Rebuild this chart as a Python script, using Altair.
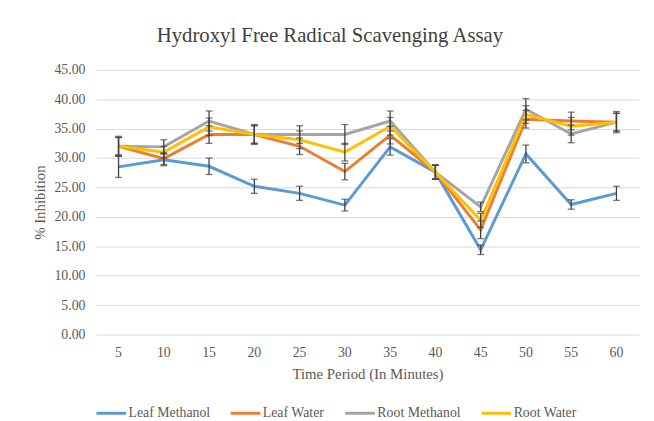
import altair as alt
import pandas as pd

times = [5, 10, 15, 20, 25, 30, 35, 40, 45, 50, 55, 60]
series_names = ["Leaf Methanol", "Leaf Water", "Root Methanol", "Root Water"]
colors = ["#5B9BD5", "#ED7D31", "#A5A5A5", "#FFC000"]

leaf_methanol = [28.5, 29.7, 28.6, 25.2, 24.0, 22.0, 31.9, 27.6, 14.4, 30.7, 22.1, 24.0]
leaf_water = [32.0, 29.9, 34.0, 34.0, 32.0, 27.7, 33.9, 27.6, 17.8, 36.6, 36.3, 36.1]
root_methanol = [32.0, 31.9, 36.3, 34.0, 34.0, 34.0, 36.3, 27.6, 21.7, 38.3, 34.1, 36.1]
root_water = [32.0, 31.0, 35.3, 34.0, 33.1, 31.0, 35.4, 27.6, 19.4, 37.4, 35.4, 36.1]

leaf_methanol_err = [1.8, 1.0, 1.4, 1.2, 1.2, 1.0, 1.4, 1.2, 0.8, 1.5, 0.8, 1.2]
leaf_water_err = [1.5, 1.0, 1.5, 1.5, 1.4, 1.4, 1.5, 1.2, 1.5, 1.5, 1.5, 1.5]
root_methanol_err = [1.7, 1.2, 1.7, 1.7, 1.5, 1.7, 1.7, 1.2, 0.8, 1.8, 1.5, 1.8]
root_water_err = [1.5, 1.0, 1.5, 1.5, 1.5, 1.5, 1.5, 1.2, 1.2, 1.5, 1.5, 1.5]

y_ticks = [0, 5, 10, 15, 20, 25, 30, 35, 40, 45]

rows = []
for name, vals, errs in zip(
    series_names,
    [leaf_methanol, leaf_water, root_methanol, root_water],
    [leaf_methanol_err, leaf_water_err, root_methanol_err, root_water_err],
):
    for t, v, e in zip(times, vals, errs):
        rows.append({"time": t, "series": name, "value": v, "lo": v - e, "hi": v + e})
df = pd.DataFrame(rows)

FONT = "Liberation Serif"
TXT = "#595959"

x_axis = alt.Axis(
    labelAngle=0, domain=False, ticks=False, labelPadding=11,
    titlePadding=8, labelFontSize=14, titleFontSize=15,
)
y_axis = alt.Axis(
    values=y_ticks, format=".2f", labelOverlap=False,
    domain=False, ticks=False, labelPadding=11, titlePadding=7,
    labelFontSize=14, titleFontSize=15, gridColor="#d9d9d9",
)
y_scale = alt.Scale(domain=[0, 45], nice=False, zero=True)


def xe():
    return alt.X("time:O", sort=times, title="Time Period (In Minutes)", axis=x_axis)


def ye(field):
    return alt.Y(field, scale=y_scale, title="% Inhibition", axis=y_axis)


base = alt.Chart(df)

lines = base.mark_line(strokeWidth=3).encode(
    x=xe(),
    y=ye("value:Q"),
    color=alt.Color(
        "series:N",
        scale=alt.Scale(domain=series_names, range=colors),
        legend=alt.Legend(
            title=None, orient="none", legendX=-1, legendY=331,
            direction="horizontal", columns=4, gridAlign="each",
            columnPadding=14, symbolType="stroke", symbolSize=900,
            symbolStrokeWidth=3, labelOffset=1, labelFontSize=14,
        ),
    ),
)

err_rule = base.mark_rule(color="#404040", strokeWidth=1.3).encode(
    x=xe(), y=ye("lo:Q"), y2="hi:Q"
)
err_lo = base.mark_tick(color="#404040", thickness=1.3, size=7).encode(
    x=xe(), y=ye("lo:Q")
)
err_hi = base.mark_tick(color="#404040", thickness=1.3, size=7).encode(
    x=xe(), y=ye("hi:Q")
)

chart = (
    alt.layer(lines, err_rule, err_lo, err_hi)
    .properties(
        width=550,
        height=268,
        autosize=alt.AutoSizeParams(type="none"),
        padding={"left": 89, "top": 60, "right": 7, "bottom": 85},
        title=alt.TitleParams(
            "Hydroxyl Free Radical Scavenging Assay",
            anchor="middle", frame="group", dx=-38, dy=22, offset=18, baseline="bottom",
            font=FONT, fontSize=21, fontWeight="normal", color="#404040",
        ),
    )
    .configure(font=FONT)
    .configure_axis(labelFont=FONT, titleFont=FONT, labelColor=TXT, titleColor=TXT,
                    titleFontWeight="normal")
    .configure_legend(labelFont=FONT, labelColor=TXT)
    .configure_view(stroke=None)
)

chart.save("out.html", embed_options={"renderer": "svg", "actions": False})
